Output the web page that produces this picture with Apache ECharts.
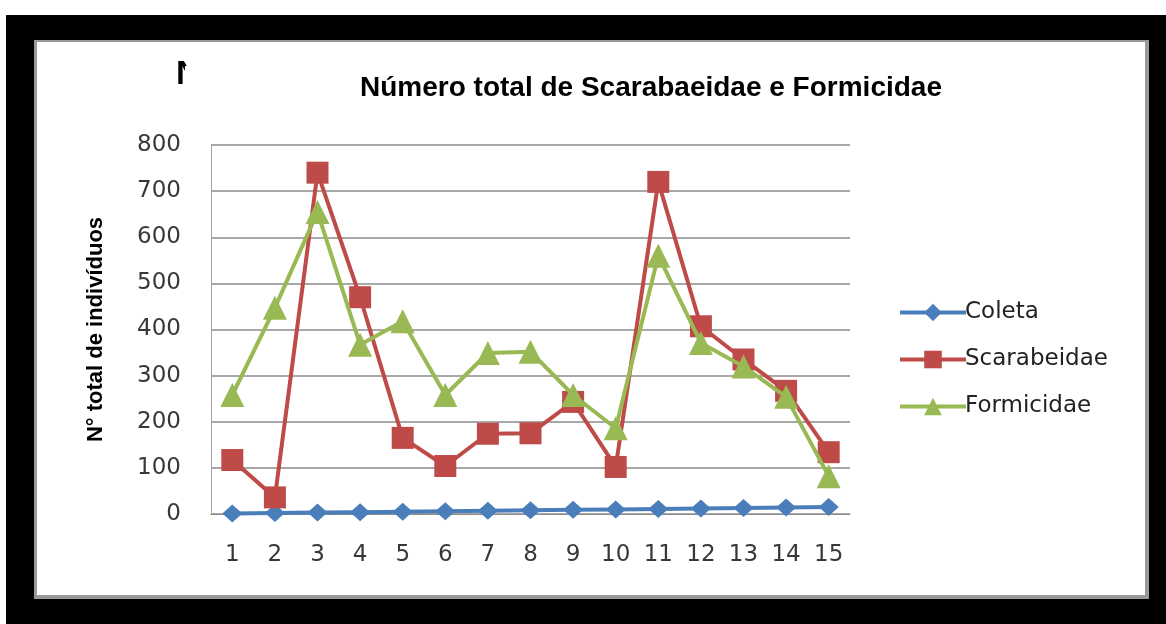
<!DOCTYPE html>
<html>
<head>
<meta charset="utf-8">
<script src="https://cdn.jsdelivr.net/npm/echarts@6/dist/echarts.min.js"></script>
<style>
  html, body { margin: 0; padding: 0; background: #fff; }
  #wrap { position: relative; width: 1166px; height: 624px; background: #fff; overflow: hidden; }
  #frame { position: absolute; left: 6px; top: 15px; width: 1160px; height: 609px; background: #000; }
  #shadow { position: absolute; left: 34px; top: 40px; width: 1115px; height: 559px; background: #9a9a9a; }
  #paper { position: absolute; left: 37px; top: 42px; width: 1108px; height: 553px; background: #fff; }
  #chart { position: absolute; left: 0; top: 0; width: 1166px; height: 624px; }
</style>
</head>
<body>
<div id="wrap">
  <div id="frame"></div>
  <div id="shadow"></div>
  <div id="paper"></div>
  <div id="chart"></div>
</div>
<script>
const categories = ["1", "2", "3", "4", "5", "6", "7", "8", "9", "10", "11", "12", "13", "14", "15"];
const coleta = [1, 2, 3, 4, 5, 6, 7, 8, 9, 10, 11, 12, 13, 14, 15];
const scarabeidae = [117, 36, 740, 470, 165, 104, 174, 175, 243, 102, 720, 407, 335, 267, 134];
const formicidae = [258, 447, 655, 367, 418, 258, 349, 352, 258, 186, 560, 371, 320, 254, 82];

let myChart = echarts.init(document.getElementById("chart"));
myChart.setOption({
  backgroundColor: "transparent",
  animation: false,
  title: {
    text: "Número total de Scarabaeidae e Formicidae",
    left: 355,
    top: 69,
    textStyle: {
      fontFamily: "Liberation Sans",
      fontWeight: "bold",
      fontSize: 28,
      color: "#000",
    },
  },
  // leftover clipped letter at top-left
  graphic: [
    {
      type: "text",
      left: 176,
      top: 58,
      style: { text: "N", font: "bold 34px Liberation Sans", fill: "#000" },
    },
    {
      type: "rect",
      shape: { x: 185, y: 66, width: 140, height: 34 },
      style: { fill: "#fff" },
    },
    {
      type: "rect",
      shape: { x: 189, y: 50, width: 140, height: 20 },
      style: { fill: "#fff" },
    },
  ],
  legend: {
    orient: "vertical",
    left: 893,
    top: 296,
    itemWidth: 66,
    itemHeight: 22,
    itemGap: 24,
    lineStyle: { width: 4 },
    textStyle: {
      fontFamily: "DejaVu Sans",
      fontSize: 23,
      color: "#222",
      padding: [0, 0, 0, -6],
    },
    data: ["Coleta", "Scarabeidae", "Formicidae"],
  },
  grid: {
    left: 211,
    right: 316,
    top: 145,
    bottom: 110,
  },
  xAxis: {
    type: "category",
    data: categories,
    boundaryGap: true,
    axisLine: { show: true, lineStyle: { color: "#8c8c8c", width: 1 } },
    axisTick: { show: false },
    axisLabel: {
      interval: 0,
      margin: 30,
      fontFamily: "DejaVu Sans",
      fontSize: 23,
      color: "#383838",
    },
  },
  yAxis: {
    type: "value",
    min: 0,
    max: 800,
    interval: 100,
    name: "N° total de indivíduos",
    nameLocation: "middle",
    nameRotate: 90,
    nameGap: 104,
    nameTextStyle: {
      fontFamily: "Liberation Sans",
      fontWeight: "bold",
      fontSize: 22,
      color: "#000",
    },
    axisLine: { show: true, lineStyle: { color: "#a0a0a0", width: 1 } },
    axisTick: { show: false },
    axisLabel: {
      margin: 30,
      fontFamily: "DejaVu Sans",
      fontSize: 23,
      color: "#383838",
    },
    splitLine: { show: true, lineStyle: { color: "#a8a8a8", width: 2 } },
  },
  series: [
    {
      name: "Coleta",
      type: "line",
      data: coleta,
      symbol: "diamond",
      symbolSize: [20, 18],
      lineStyle: { color: "#4a7ebb", width: 4 },
      itemStyle: { color: "#4a7ebb" },
      z: 3,
    },
    {
      name: "Scarabeidae",
      type: "line",
      data: scarabeidae,
      symbol: "rect",
      symbolSize: 22,
      lineStyle: { color: "#be4b48", width: 4 },
      itemStyle: { color: "#be4b48" },
      z: 4,
    },
    {
      name: "Formicidae",
      type: "line",
      data: formicidae,
      symbol: "triangle",
      symbolSize: 24,
      lineStyle: { color: "#98b954", width: 4 },
      itemStyle: { color: "#98b954" },
      z: 5,
    },
  ],
});
</script>
</body>
</html>
